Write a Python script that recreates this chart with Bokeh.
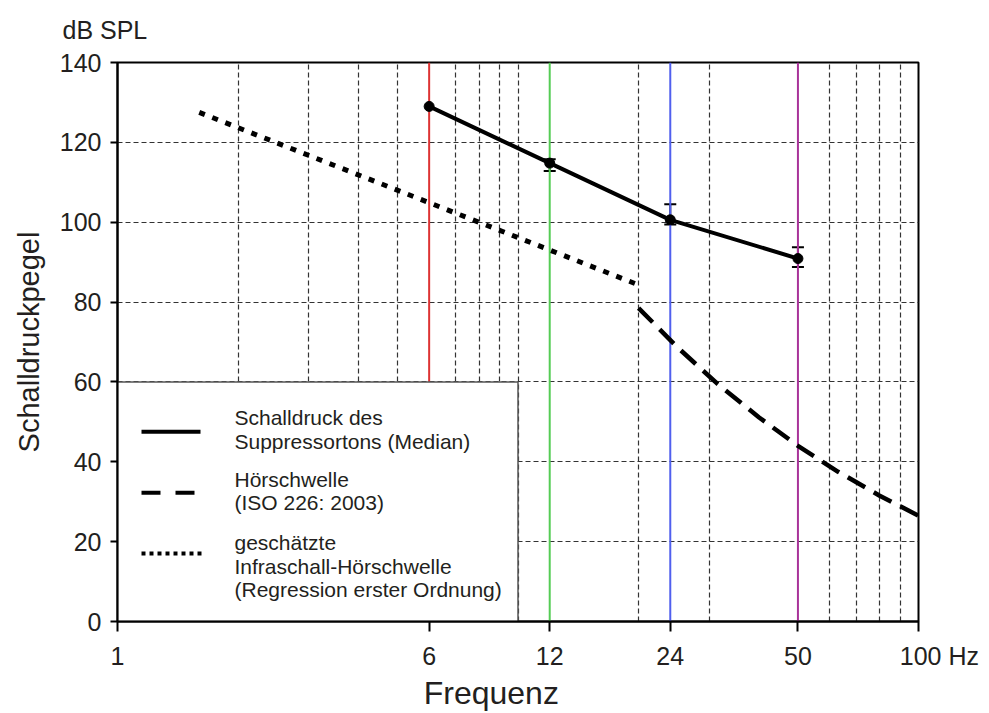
import math
from bokeh.plotting import figure
from bokeh.models import FixedTicker, Whisker, TeeHead, ColumnDataSource, Label, Range1d, Title
from bokeh.embed import file_html
from bokeh.resources import INLINE

# ---------------- data ----------------
supp_freq = [6, 12, 24, 50]
supp_spl = [129, 114.8, 100.6, 90.9]
err_freq = [12, 24, 50]
err_low = [112.8, 99.4, 88.8]
err_high = [115.8, 104.5, 93.7]

iso_freq = [20, 25, 31.5, 40, 50, 63, 80, 100]
iso_spl = [78.5, 68.7, 59.5, 51.1, 44.0, 37.5, 31.5, 26.5]

reg_freq = [1.6, 20]
reg_spl = [127.5, 84.3]

marker_freq = [6, 12, 24, 50]
marker_colors = ["#dd3333", "#55cc55", "#5060ee", "#a83399"]

FS = "\u2007"  # figure space used only to nudge label placement
x_ticks = [1, 6, 12, 24, 50, 100]
x_tick_labels = ["1", "6", "12", "24", "50", FS * 3 + "100 Hz"]
y_ticks = [0, 20, 40, 60, 80, 100, 120, 140]
x_grid = [2, 3, 4, 5, 7, 8, 9, 10, 20, 30, 60, 70, 80, 90]
y_grid = [20, 40, 60, 80, 100, 120]

legend_labels = [
    ["Schalldruck des", "Suppressortons (Median)"],
    ["Hörschwelle", "(ISO 226: 2003)"],
    ["geschätzte", "Infraschall-Hörschwelle", "(Regression erster Ordnung)"],
]

FONT = "Liberation Sans"
TXT = "#231f20"

# ---------------- layout ----------------
W, H = 989, 713
FL, FR, FT, FB = 117, 918, 62, 622  # frame edges in px

p = figure(width=W, height=H, x_axis_type="log",
           x_range=Range1d(1, 100), y_range=Range1d(0, 140),
           output_backend="svg", toolbar_location=None,
           min_border_left=FL, min_border_right=W - FR,
           min_border_top=FT, min_border_bottom=H - FB)
p.background_fill_color = "white"
p.border_fill_color = "white"
p.outline_line_color = "black"
p.outline_line_width = 2

# unit label as the title, with a spacer title between it and the frame
p.title.text = "dB SPL"
p.title.text_font = FONT
p.title.text_font_size = "25px"
p.title.text_font_style = "normal"
p.title.text_color = TXT
p.title.align = "left"
p.title.offset = -55
p.title.standoff = 0
p.title.vertical_align = "top"
p.add_layout(Title(text=FS, text_font=FONT, text_font_size="10px",
                   standoff=4), "above")

def fx(px):
    return 10 ** (2 * (px - FL) / (FR - FL))

def fy(py):
    return 140 * (FB - py) / (FB - FT)

# axes
for ax in (p.xaxis[0], p.yaxis[0]):
    ax.axis_line_color = "black"
    ax.axis_line_width = 2
    ax.major_tick_line_color = "black"
    ax.major_tick_line_width = 2
    ax.major_tick_in = 0
    ax.minor_tick_line_color = None
    ax.major_label_text_font = FONT
    ax.major_label_text_color = TXT
    ax.major_label_text_font_size = "25px"
    ax.axis_label_text_font = FONT
    ax.axis_label_text_color = TXT
    ax.axis_label_text_font_style = "normal"
    ax.axis_label_text_font_size = "29px"

p.xaxis.ticker = FixedTicker(ticks=x_ticks)
p.xaxis.major_label_overrides = {t: l for t, l in zip(x_ticks, x_tick_labels)}
p.xaxis.major_tick_out = 10
p.xaxis.major_label_standoff = 10
p.xaxis.axis_label = "Frequenz" + FS * 3
p.xaxis.axis_label_standoff = 2
p.xaxis.axis_label_text_font_size = "32px"

p.yaxis.ticker = FixedTicker(ticks=y_ticks)
p.yaxis.major_tick_out = 7
p.yaxis.major_label_standoff = 9
p.yaxis.axis_label = "Schalldruckpegel"
p.yaxis.axis_label_standoff = 12

# grid
p.xgrid.ticker = FixedTicker(ticks=x_grid)
p.ygrid.ticker = FixedTicker(ticks=y_grid)
for g in (p.xgrid[0], p.ygrid[0]):
    g.grid_line_color = "#333333"
    g.grid_line_width = 1.2
    g.grid_line_dash = "5 3"

# coloured frequency lines
p.segment(x0=marker_freq, x1=marker_freq, y0=[0] * 4, y1=[140] * 4,
          line_color=marker_colors, line_width=2)

# legend box (covers grid)
p.quad(left=[1], right=[10], bottom=[0], top=[60], fill_color="white",
       line_color="#555555", line_width=1.5)

# data lines
p.line(reg_freq, reg_spl, line_color="black", line_width=5, line_dash="6 8")
p.line(iso_freq, iso_spl, line_color="black", line_width=4.5, line_dash="20 10")
p.line(supp_freq, supp_spl, line_color="black", line_width=4)
p.scatter(supp_freq, supp_spl, size=10, color="black")

src = ColumnDataSource(dict(x=err_freq, lo=err_low, hi=err_high))
p.add_layout(Whisker(source=src, base="x", lower="lo", upper="hi",
                     line_color="black", line_width=2,
                     upper_head=TeeHead(size=12, line_width=2, line_color="black"),
                     lower_head=TeeHead(size=12, line_width=2, line_color="black")))

# legend samples
p.line([fx(141), fx(200)], [fy(432)] * 2, line_color="black", line_width=4)
p.line([fx(141), fx(198)], [fy(493)] * 2, line_color="black", line_width=4, line_dash="19 15")
p.line([fx(141), fx(202)], [fy(554)] * 2, line_color="black", line_width=4, line_dash="4 4")

legend_y = [[418, 441.5], [480, 503], [543, 566.5, 590]]
for lines, ys in zip(legend_labels, legend_y):
    for t, py in zip(lines, ys):
        p.add_layout(Label(x=fx(234), y=fy(py), text=t, text_font=FONT,
                           text_font_size="21px", text_color=TXT,
                           text_baseline="middle", text_align="left"))

open("out.html", "w").write(file_html(p, INLINE))
